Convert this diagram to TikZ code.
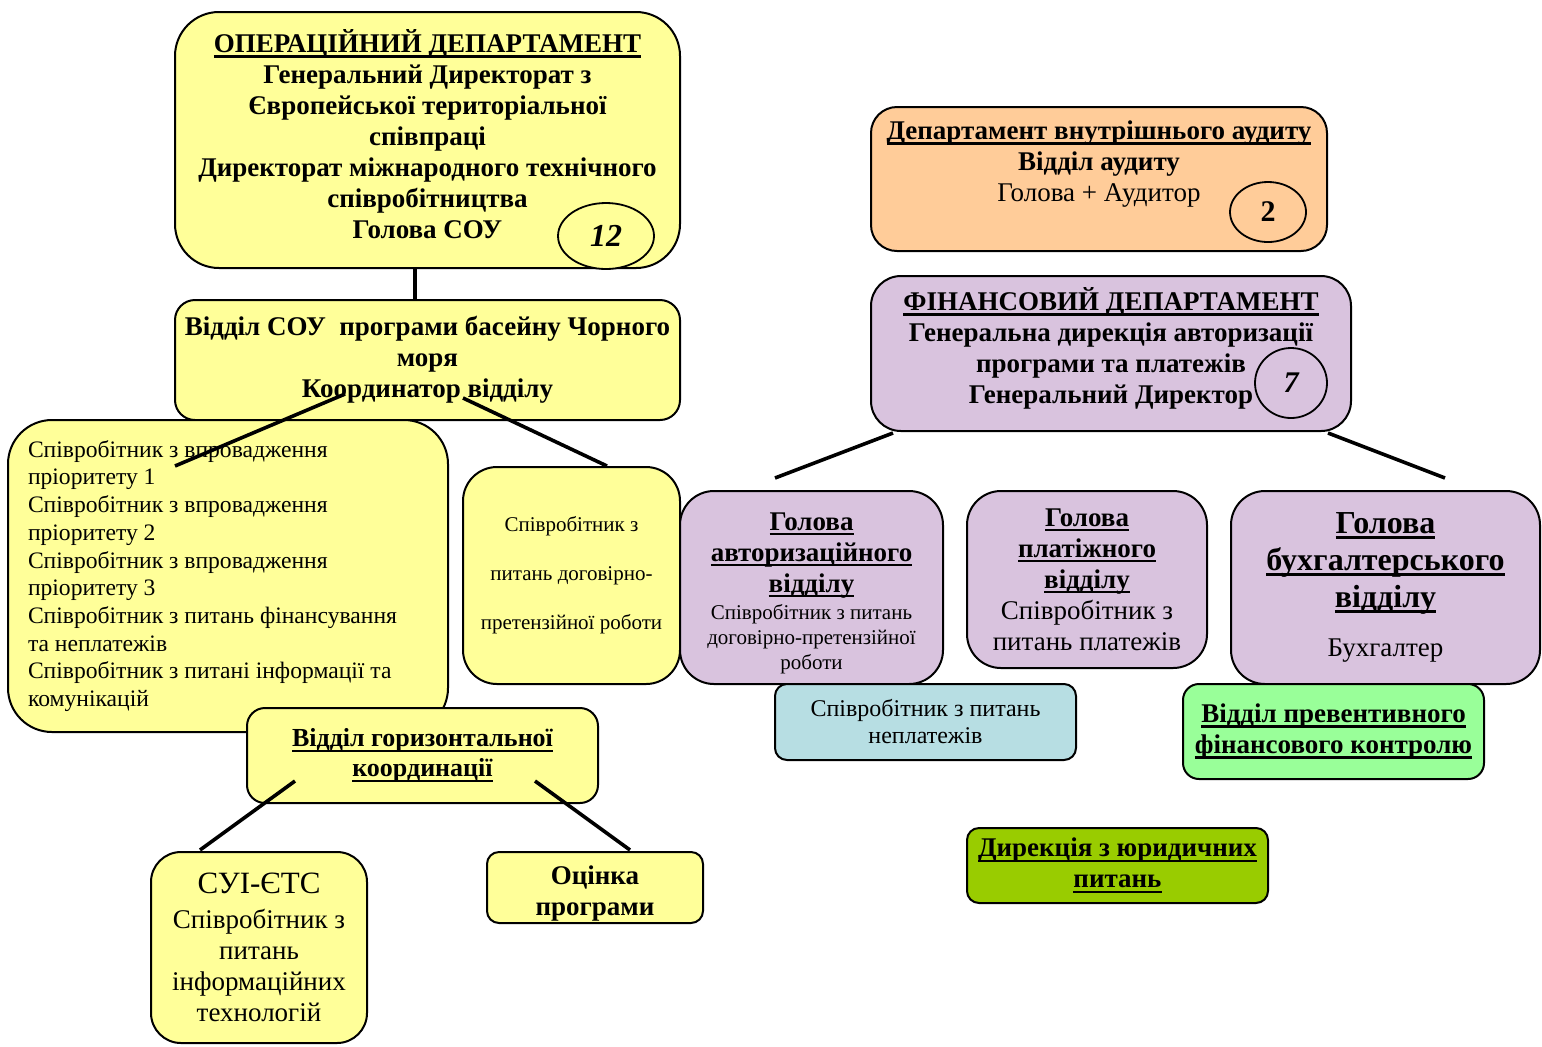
\documentclass[tikz,border=0pt]{standalone}
\usepackage{fontspec}
\setmainfont{Liberation Serif}
\usepackage[dvipsnames,svgnames,x11names]{xcolor}
\usepackage{tikz}
\usetikzlibrary{shapes.geometric}
\definecolor{opsyellow}{HTML}{FFFF99}
\definecolor{auditorange}{HTML}{FFCC99}
\definecolor{finlilac}{HTML}{D9C3DE}
\definecolor{debtblue}{HTML}{B7DEE3}
\definecolor{ctrlgreen}{HTML}{99FF99}
\definecolor{legalgreen}{HTML}{99CC00}
\newcommand{\ulx}[1]{\setbox0=\hbox{#1}\leavevmode\rlap{\rule[-2.6pt]{\wd0}{1.2pt}}\box0}

\begin{document}
\begin{tikzpicture}[x=0.5pt,y=-0.5pt,
  unit/.style={rectangle,draw=black,line width=1pt,align=center,inner sep=0pt,text=black,font=\fontsize{13.5}{15.5}\selectfont\bfseries},
  badge/.style={ellipse,draw=black,line width=0.9pt,inner sep=0pt,text=black,font=\fontsize{16}{16}\selectfont\bfseries\itshape},
  link/.style={draw=black,line width=1.8pt}]
\useasboundingbox (0,0) rectangle (1542,1046);
\node[unit,fill=opsyellow,rounded corners=22pt,minimum width=252.5pt,minimum height=128pt,text depth=6pt] (ops) at (427.5,140) {\ulx{ОПЕРАЦІЙНИЙ ДЕПАРТАМЕНТ}\\Генеральний Директорат з\\Європейської територіальної\\співпраці\\Директорат міжнародного технічного\\співробітництва\\Голова СОУ};
\node[badge,fill=opsyellow,minimum width=48pt,minimum height=33pt] (ops12) at (606,236) {12};
\node[unit,fill=opsyellow,rounded corners=10pt,minimum width=252.5pt,minimum height=60pt] (sou) at (427.5,360) {Відділ СОУ\ \ програми басейну Чорного\\моря\\Координатор відділу};
\node[unit,fill=opsyellow,rounded corners=22pt,minimum width=220pt,minimum height=156pt,align=flush left,text width=200pt,font=\fontsize{11.8}{13.85}\selectfont] (staff) at (228,576) {Співробітник з впровадження\\пріоритету 1\\Співробітник з впровадження\\пріоритету 2\\Співробітник з впровадження\\пріоритету 3\\Співробітник з питань фінансування\\та неплатежів\\Співробітник з питані інформації та\\комунікацій};
\node[unit,fill=opsyellow,rounded corners=17pt,minimum width=108.5pt,minimum height=108.5pt,font=\fontsize{10.5}{24.5}\selectfont] (contract) at (571.5,575.5) {Співробітник з\\питань договірно-\\претензійної роботи};
\node[unit,fill=opsyellow,rounded corners=9pt,minimum width=175.5pt,minimum height=47.5pt,font=\fontsize{13}{15}\selectfont\bfseries] (horiz) at (422.5,755.5) {\ulx{Відділ горизонтальної}\\\ulx{координації}};
\node[unit,fill=opsyellow,rounded corners=15pt,minimum width=108pt,minimum height=95.5pt,font=\fontsize{13.5}{15.5}\selectfont] (sui) at (259,947.5) {{\fontsize{15.5}{17.5}\selectfont СУІ-ЄТС}\\[2pt]Співробітник з\\питань\\інформаційних\\технологій};
\node[unit,fill=opsyellow,rounded corners=6pt,minimum width=108pt,minimum height=35.5pt] (eval) at (595,887.5) {\rule{0pt}{15.5pt}Оцінка\\програми};
\node[unit,fill=auditorange,rounded corners=13pt,minimum width=228pt,minimum height=72pt,text depth=18pt] (audit) at (1099,179) {\ulx{Департамент внутрішнього аудиту}\\Відділ аудиту\\{\mdseries Голова + Аудитор}};
\node[badge,fill=auditorange,minimum width=38pt,minimum height=30pt,font=\fontsize{15}{15}\selectfont\bfseries] (audit2) at (1268,212) {2};
\node[unit,fill=finlilac,rounded corners=15pt,minimum width=240pt,minimum height=77.5pt,text depth=8pt] (fin) at (1111,353.5) {\ulx{ФІНАНСОВИЙ ДЕПАРТАМЕНТ}\\Генеральна дирекція авторизації\\програми та платежів\\Генеральний Директор};
\node[badge,fill=finlilac,minimum width=36pt,minimum height=35pt,font=\fontsize{15}{15}\selectfont\bfseries\itshape] (fin7) at (1291,383) {7};
\node[unit,fill=finlilac,rounded corners=17pt,minimum width=131.5pt,minimum height=96.5pt] (auth) at (811.5,587.5) {\rule{0pt}{14.5pt}\ulx{Голова}\\\ulx{авторизаційного}\\\ulx{відділу}\\[-2pt]{\fontsize{10.5}{12.5}\selectfont\mdseries Співробітник з питань}\\[-3pt]{\fontsize{10.5}{12.5}\selectfont\mdseries договірно-претензійної}\\[-3pt]{\fontsize{10.5}{12.5}\selectfont\mdseries роботи}};
\node[unit,fill=finlilac,rounded corners=17pt,minimum width=120pt,minimum height=88.5pt] (pay) at (1087,579.5) {\ulx{Голова}\\\ulx{платіжного}\\\ulx{відділу}\\{\mdseries Співробітник з}\\{\mdseries питань платежів}};
\node[unit,fill=finlilac,rounded corners=17pt,minimum width=154.5pt,minimum height=96.5pt,font=\fontsize{16}{18.5}\selectfont\bfseries] (acc) at (1385.5,587.5) {\ulx{Голова}\\\ulx{бухгалтерського}\\\ulx{відділу}\\[6pt]{\fontsize{13.5}{15.5}\selectfont\mdseries Бухгалтер}};
\node[unit,fill=debtblue,rounded corners=6pt,minimum width=150.5pt,minimum height=38pt,font=\fontsize{12}{13.5}\selectfont] (debt) at (925.5,722) {Співробітник з питань\\неплатежів};
\node[unit,fill=ctrlgreen,rounded corners=8pt,minimum width=150.5pt,minimum height=47.5pt] (prev) at (1333.5,731.5) {\ulx{Відділ превентивного}\\\ulx{фінансового контролю}};
\node[unit,fill=legalgreen,rounded corners=6pt,minimum width=150.5pt,minimum height=37.5pt] (legal) at (1117.5,865.5) {\ulx{Дирекція з юридичних}\\\ulx{питань}};
\draw[link] ([shift={(-12.5,0)}]ops.south) -- ([shift={(-12.5,0)}]sou.north);
\draw[link] ([shift={(-82.5,-27)}]sou.south) -- ([shift={(-53,47)}]staff.north);
\draw[link] ([shift={(35.5,-23)}]sou.south) -- ([shift={(35.5,0)}]contract.north);
\draw[link] ([shift={(-218,1)}]fin.south) -- ([shift={(-36.5,-12)}]auth.north);
\draw[link] ([shift={(217,1)}]fin.south) -- ([shift={(59.5,-12)}]acc.north);
\draw[link] ([shift={(-127.5,-23)}]horiz.south) -- ([shift={(-59,-1)}]sui.north);
\draw[link] ([shift={(112.5,-23)}]horiz.south) -- ([shift={(35,-1)}]eval.north);
\end{tikzpicture}
\end{document}
